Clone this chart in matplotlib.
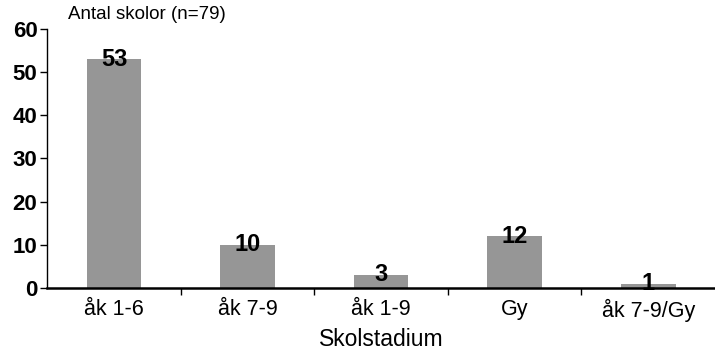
import numpy as np
import matplotlib.pyplot as plt

plt.rcParams['font.family'] = ['Liberation Sans', 'DejaVu Sans']

categories = ['åk 1-6', 'åk 7-9', 'åk 1-9', 'Gy', 'åk 7-9/Gy']
counts = [53, 10, 3, 12, 1]

fig = plt.figure(figsize=(7.15, 3.51), dpi=100)
ax = fig.add_axes([0.066, 0.18, 0.934, 0.737])

x = np.arange(len(categories))
ax.bar(x, counts, width=0.41, color='#969696', zorder=2)

# value labels sit centred on the top of each bar
for xi, v in zip(x, counts):
    ax.text(xi, v, str(v), ha='center', va='center', fontsize=17,
            fontweight='bold', zorder=3)

ax.set_xlim(-0.5, len(categories) - 0.5)
ax.set_ylim(0, 60)
ax.set_yticks(range(0, 61, 10))
ax.set_yticklabels([str(t) for t in range(0, 61, 10)], fontsize=16, fontweight='bold')

# category labels between boundary ticks
ax.set_xticks(x)
ax.set_xticklabels(categories, fontsize=15.5)
ax.tick_params(axis='x', length=0, pad=8)
ax.set_xticks(np.arange(0.5, len(categories) - 0.5, 1), minor=True)
ax.tick_params(axis='x', which='minor', length=5, width=1, direction='out')
ax.tick_params(axis='y', length=5, width=1, direction='out', pad=2)

ax.spines['top'].set_visible(False)
ax.spines['right'].set_visible(False)
ax.spines['bottom'].set_linewidth(1.8)
ax.spines['left'].set_linewidth(1)

ax.set_xlabel('Skolstadium', fontsize=16.5, labelpad=4)
fig.text(0.095, 0.96, 'Antal skolor (n=79)', fontsize=13.5, va='center', ha='left')

fig.savefig('out.png', dpi=100)
